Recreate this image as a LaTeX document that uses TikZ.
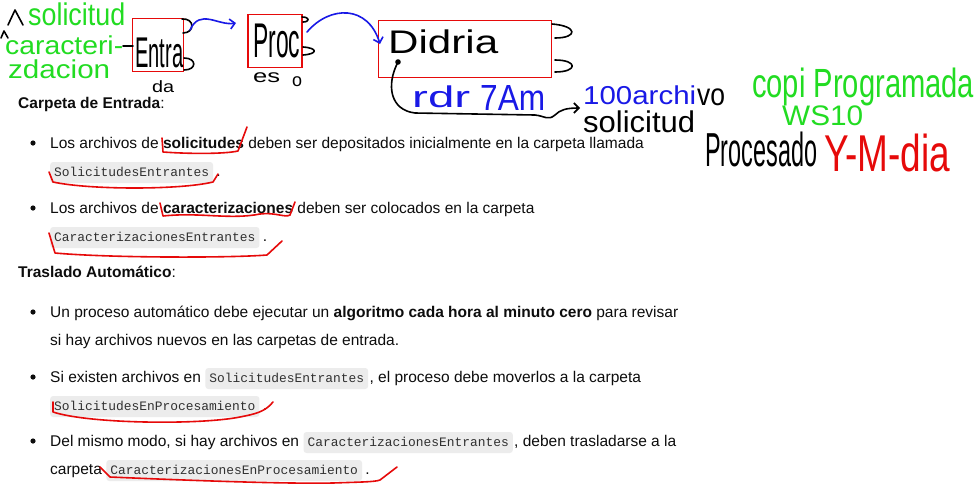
\documentclass[tikz,border=0pt]{standalone}
\usepackage{fontspec}
\setmainfont{Liberation Sans}
\newfontfamily\codefam{Liberation Mono}
\newfontfamily\hwfam{Liberation Sans}
\usetikzlibrary{arrows.meta}
\definecolor{codebg}{RGB}{236,236,236}
\definecolor{bodyc}{RGB}{13,13,13}
\definecolor{hwgreen}{RGB}{34,220,34}
\definecolor{hwblue}{RGB}{25,25,230}
\definecolor{hwred}{RGB}{230,10,10}
\newcommand{\hwtext}[3]{\resizebox*{#1}{#2}{\hwfam #3}}
\begin{document}
\begin{tikzpicture}[x=1pt,y=-1pt,
  txt/.style={anchor=base west, inner sep=0pt, text=bodyc, font=\fontsize{15.5}{18}\selectfont},
  code/.style={anchor=base west, fill=codebg, rounded corners=3pt, inner xsep=4pt, inner ysep=3pt,
     text height=11pt, text depth=4pt, text=bodyc!85, font=\codefam\fontsize{12.9}{15}\selectfont},
  bul/.style={fill=bodyc},
  hw/.style={anchor=north west, inner sep=0pt},
  redbox/.style={draw=hwred, line width=1.6pt, inner sep=0pt},
  pen/.style={line width=1.6pt, line cap=round, line join=round},
  ul/.style={pen, hwred},
  tip/.style={-{Straight Barb[length=5pt,width=10pt]}}
]
\path[use as bounding box, fill=white] (0,0) rectangle (977,488);

% ---------- typed text ----------
\node[txt] (h1) at (18,108) {\textbf{Carpeta de Entrada}:};
\fill[bul] (33,143) circle (2.6pt);
\node[txt] (l1) at (50,148) {Los archivos de \textbf{solicitudes} deben ser depositados inicialmente en la carpeta llamada};
\node[code] (c1) at (50,176) {SolicitudesEntrantes};
\node[txt] (d1) at ([xshift=3pt]c1.base east) {.};
\fill[bul] (33,208) circle (2.6pt);
\node[txt] (l2) at (50,213) {Los archivos de \textbf{caracterizaciones} deben ser colocados en la carpeta};
\node[code] (c2) at (50,241) {CaracterizacionesEntrantes};
\node[txt] (d2) at ([xshift=3pt]c2.base east) {.};

\node[txt] (h2) at (18,277) {\textbf{Traslado Automático}:};
\fill[bul] (33,312) circle (2.6pt);
\node[txt] (l3) at (50,317) {Un proceso automático debe ejecutar un \textbf{algoritmo cada hora al minuto cero} para revisar};
\node[txt] (l3b) at (50,345) {si hay archivos nuevos en las carpetas de entrada.};
\fill[bul] (33,377) circle (2.6pt);
\node[txt] (l4) at (50,382) {Si existen archivos en};
\node[code] (c4) at ([xshift=4pt]l4.base east) {SolicitudesEntrantes};
\node[txt] (l4b) at ([xshift=1pt]c4.base east) {, el proceso debe moverlos a la carpeta};
\node[code] (c4b) at (50,410) {SolicitudesEnProcesamiento};
\node[txt] (d4) at ([xshift=3pt]c4b.base east) {.};
\fill[bul] (33,441) circle (2.6pt);
\node[txt] (l5) at (50,446) {Del mismo modo, si hay archivos en};
\node[code] (c5) at ([xshift=4pt]l5.base east) {CaracterizacionesEntrantes};
\node[txt] (l5b) at ([xshift=1pt]c5.base east) {, deben trasladarse a la};
\node[txt] (l6) at (50,474) {carpeta};
\node[code] (c6) at ([xshift=4pt]l6.base east) {CaracterizacionesEnProcesamiento};
\node[txt] (d6) at ([xshift=3pt]c6.base east) {.};

% ---------- red underlines ----------
\draw[ul] (162,138) -- (163,152) .. controls (190,154) and (225,154) .. (238,151) -- (247,127);
\draw[ul] (49,172) -- (53,182) .. controls (90,190) and (180,190) .. (213,182) -- (218,174);
\draw[ul] (160,203) -- (163,216) .. controls (200,212) and (230,220) .. (260,214) .. controls (275,212) and (285,218) .. (290,215) -- (295,202);
\draw[ul] (49,233) -- (55,253) .. controls (110,258) and (230,258) .. (267,255) -- (282,241);
\draw[ul] (53,402) -- (53,412) .. controls (90,424) and (200,425) .. (240,417) .. controls (255,414) and (265,412) .. (273,402);
\draw[ul] (100,467) -- (110,477) .. controls (180,480) and (280,484) .. (333,483) .. controls (360,482) and (375,482) .. (380,480) -- (397,467);

% ---------- sketch diagram ----------
\node[redbox, minimum width=51pt, minimum height=53pt] (entr) at (158,45) {};
\node[redbox, minimum width=54pt, minimum height=53pt] (proc) at (275,41) {};
\node[redbox, minimum width=173pt, minimum height=57pt] (didr) at (465,49) {};

\node[hw] (tentr) at (135,38) {\hwtext{48pt}{30pt}{Entra}};
\node[hw] (tda) at (152,80) {\hwtext{22pt}{12pt}{da}};
\node[hw] (tproc) at (253,24) {\hwtext{47pt}{34pt}{Proc}};
\node[hw] (tes) at (253,72) {\hwtext{27pt}{10pt}{es}};
\node[hw] (to) at (292,76) {\hwtext{10pt}{10pt}{o}};
\node[hw] (tdid) at (388,30) {\hwtext{110pt}{24pt}{Didria}};

% ports
\draw[pen] (182,19) .. controls (195,18) and (195,33) .. (183,33);
\draw[pen] (184,58) .. controls (197,58) and (197,70) .. (184,70);
\draw[pen] (302,17) .. controls (310,17) and (310,22) .. (303,22);
\draw[pen] (303,47) .. controls (318,48) and (318,54) .. (303,55);
\draw[pen] (552,24) .. controls (578,26) and (578,38) .. (555,38);
\draw[pen] (555,60) .. controls (578,60) and (578,72) .. (555,72);

% blue arrows
\coordinate (a1s) at (190,30);
\coordinate (a1e) at (236,23);
\coordinate (a2s) at (307,32);
\coordinate (a2e) at (380,44);
\draw[pen, hwblue, tip] (a1s) .. controls (200,8) and (218,26) .. (a1e);
\draw[pen, hwblue, tip] (a2s) .. controls (330,5) and (368,5) .. (a2e);

% black connector from dot
\coordinate (dot) at (398,62);
\coordinate (dend) at (580,108);
\fill (dot) circle (2.8pt);
\draw[pen, tip] (dot) .. controls (386,85) and (390,110) .. (415,113) -- (535,115)
   .. controls (545,116) and (548,121) .. (555,115) .. controls (560,110) and (566,108) .. (dend);

% handwritten notes
\draw[pen] (8,25) -- (15,10) -- (23,25);
\draw[pen] (1,38) -- (4,31) -- (8,38);
\draw[pen] (123,46) -- (133,46);
\node[hw, text=hwgreen] (g1) at (28,3) {\hwtext{97pt}{23pt}{solicitud}};
\node[hw, text=hwgreen] (g2) at (5,36) {\hwtext{118pt}{19pt}{caracteri-}};
\node[hw, text=hwgreen] (g3) at (8,60) {\hwtext{102pt}{19pt}{zdacion}};

\node[hw, text=hwblue] (b1) at (412,86) {\hwtext{58pt}{22pt}{rdr}};
\node[hw, text=hwblue] (b2) at (480,85) {\hwtext{65pt}{25pt}{7Am}};
\node[hw, text=hwblue] (b3) at (583,86) {\hwtext{113pt}{19pt}{100archi}};
\node[hw] (k1) at (697,89) {\hwtext{28pt}{17pt}{vo}};
\node[hw] (k2) at (583,111) {\hwtext{112pt}{22pt}{solicitud}};
\node[hw] (k3) at (705,132) {\hwtext{112pt}{35pt}{Procesado}};
\node[hw, text=hwred] (r1) at (824,134) {\hwtext{126pt}{38pt}{Y-M-dia}};
\node[hw, text=hwgreen] (g4) at (752,68) {\hwtext{222pt}{38pt}{copi Programada}};
\node[hw, text=hwgreen] (g5) at (782,106) {\hwtext{81pt}{20pt}{WS10}};
\end{tikzpicture}
\end{document}
